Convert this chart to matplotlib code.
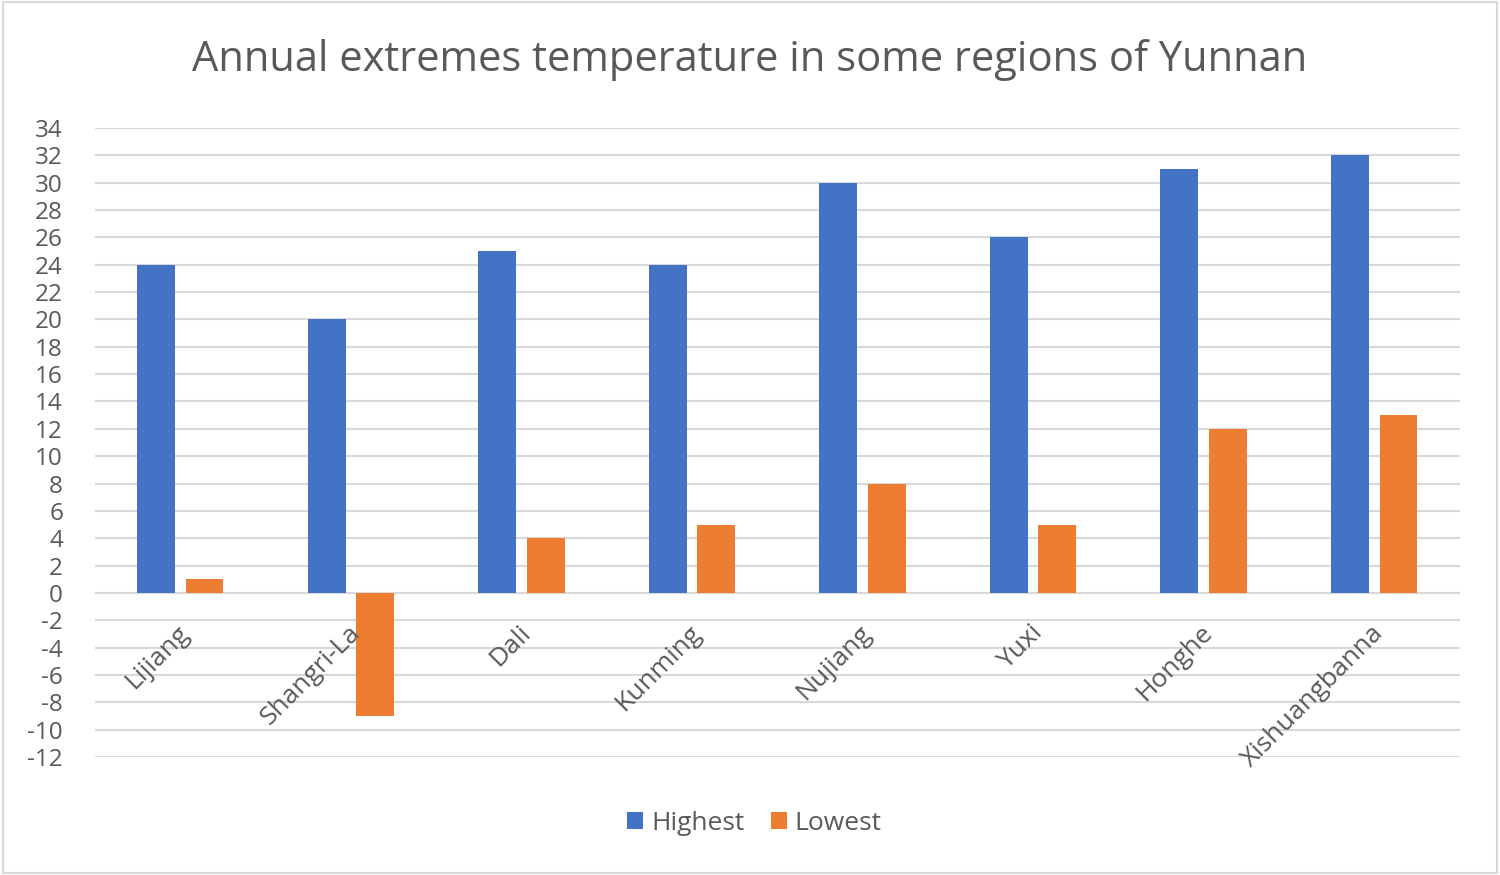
import numpy as np
import matplotlib.pyplot as plt
from matplotlib.patches import Rectangle

regions = ["Lijiang", "Shangri-La", "Dali", "Kunming", "Nujiang", "Yuxi", "Honghe", "Xishuangbanna"]
highest = [24, 20, 25, 24, 30, 26, 31, 32]
lowest = [1, -9, 4, 5, 8, 5, 12, 13]
yticks = list(range(-12, 35, 2))

blue = "#4472c4"
orange = "#ed7d31"
grey = "#595959"

plt.rcParams['font.family'] = ['Open Sans', 'DejaVu Sans']

fig = plt.figure(figsize=(15, 8.75), dpi=100)
ax = fig.add_axes([0.0633, 0.1349, 0.9097, 0.7188])

x = np.arange(len(regions))
w = 0.222
off = 0.142
ax.bar(x - off, highest, w, color=blue, label="Highest", zorder=3)
ax.bar(x + off, lowest, w, color=orange, label="Lowest", zorder=3)

ax.set_xlim(-0.5, len(regions) - 0.5)
ax.set_ylim(-12, 34)
ax.set_yticks(yticks)
ax.set_yticklabels([str(t) for t in yticks], fontsize=17.5, color=grey)
ax.grid(axis="y", color="#d9d9d9", linewidth=1.5, zorder=0)
ax.axhline(0, color="#d9d9d9", linewidth=1.5, zorder=1)
for s in ax.spines.values():
    s.set_visible(False)
ax.tick_params(axis="both", length=0)
ax.tick_params(axis="y", pad=23)
ax.set_xticks([])

# category labels hang from the zero line
for xi, name in zip(x, regions):
    ax.text(xi - 0.02, -2.0, name, rotation=45, ha="right", va="top",
            rotation_mode="anchor", fontsize=19, color=grey)

fig.suptitle("Annual extremes temperature in some regions of Yunnan",
             y=0.955, fontsize=30, color=grey)

fig.legend(loc="center", bbox_to_anchor=(0.503, 0.059), ncol=2, frameon=False,
           fontsize=19, handlelength=0.6, handleheight=0.6, handletextpad=0.3,
           columnspacing=1.0, labelcolor=grey)

fig.patches.append(Rectangle((0.002, 0.002), 0.996, 0.996, transform=fig.transFigure,
                             fill=False, edgecolor="#d9d9d9", linewidth=1.5))

fig.savefig("out.png", dpi=100)
